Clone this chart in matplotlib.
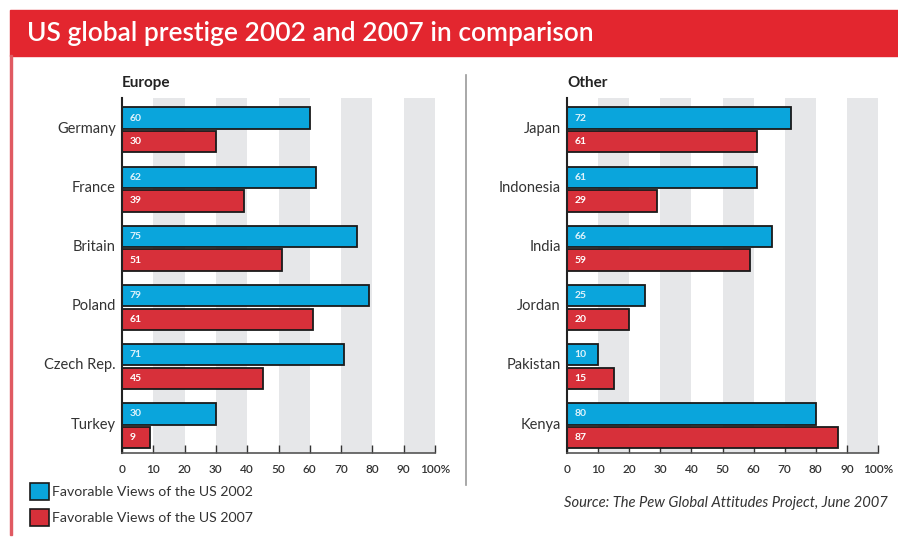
import matplotlib.pyplot as plt
import numpy as np

# === Data ===
europe = ["Germany", "France", "Britain", "Poland", "Czech Rep.", "Turkey"]
europe_2002 = [60, 62, 75, 79, 71, 30]
europe_2007 = [30, 39, 51, 61, 45, 9]

other = ["Japan", "Indonesia", "India", "Jordan", "Pakistan", "Kenya"]
other_2002 = [72, 61, 66, 25, 10, 80]
other_2007 = [61, 29, 59, 20, 15, 87]

x_ticks = [0, 10, 20, 30, 40, 50, 60, 70, 80, 90, 100]
x_tick_labels = ["0", "10", "20", "30", "40", "50", "60", "70", "80", "90", "100%"]

legend_labels = ["Favorable Views of the US 2002", "Favorable Views of the US 2007"]

BLUE = "#0AA5DC"
RED = "#D7303A"
STRIPE = "#E6E7E9"
TXT = "#333333"

plt.rcParams['font.family'] = ['Lato', 'DejaVu Sans']

fig = plt.figure(figsize=(8.98, 5.4), dpi=100)
fig.patch.set_facecolor('white')

# === Title bar and frame ===
fig.patches.append(plt.Rectangle((10 / 898, 1 - 56 / 540), 888 / 898, 46 / 540,
                                 transform=fig.transFigure, color="#E3262F", zorder=0))
fig.patches.append(plt.Rectangle((10 / 898, 5 / 540), 2 / 898, 480 / 540,
                                 transform=fig.transFigure, color="#E05A62", zorder=0))
fig.text(27 / 898, 1 - 33 / 540, "US global prestige 2002 and 2007 in comparison",
         color='white', fontsize=19, fontweight='semibold', ha='left', va='center')

# divider
fig.lines.append(plt.Line2D([466 / 898, 466 / 898], [1 - 75 / 540, 1 - 485 / 540],
                            transform=fig.transFigure, color="#999999", lw=1.2))


def panel(rect, title, names, v02, v07):
    ax = fig.add_axes(rect)
    n = len(names)
    ax.set_xlim(0, 100)
    ax.set_ylim(n, 0)
    for s in range(10, 100, 20):
        ax.axvspan(s, s + 10, color=STRIPE, lw=0, zorder=0)
    pos = np.arange(n)
    ax.barh(pos + 0.34, v02, height=0.36, color=BLUE, edgecolor="#1a1a1a", lw=1.3, zorder=2)
    ax.barh(pos + 0.74, v07, height=0.36, color=RED, edgecolor="#1a1a1a", lw=1.3, zorder=2)
    for i in range(n):
        ax.text(2.5, i + 0.34, str(v02[i]), color="#dff3fb", fontsize=7.5,
                fontweight='bold', va='center', ha='left', zorder=3)
        ax.text(2.5, i + 0.74, str(v07[i]), color="white", fontsize=7.5,
                fontweight='bold', va='center', ha='left', zorder=3)
        ax.text(-2, i + 0.52, names[i], color=TXT, fontsize=10.5,
                ha='right', va='center', transform=ax.transData)
    ax.set_yticks([])
    ax.set_xticks(x_ticks)
    ax.set_xticklabels(x_tick_labels, fontsize=8.5, color=TXT, fontweight='semibold')
    ax.tick_params(axis='x', direction='in', length=6, width=1, color="#333333", pad=8)
    for sp in ['top', 'right']:
        ax.spines[sp].set_visible(False)
    ax.spines['left'].set_linewidth(1.5)
    ax.spines['bottom'].set_linewidth(1.2)
    ax.spines['left'].set_color("#222222")
    ax.spines['bottom'].set_color("#555555")
    ax.text(0, -0.25, title, fontsize=11, fontweight='bold', color="#222222",
            ha='left', va='center')
    return ax


panel([122 / 898, 1 - 453 / 540, 313 / 898, 355 / 540], "Europe", europe, europe_2002, europe_2007)
panel([567 / 898, 1 - 453 / 540, 311 / 898, 355 / 540], "Other", other, other_2002, other_2007)

# === Legend ===
for k, (lab, col) in enumerate(zip(legend_labels, [BLUE, RED])):
    yc = 1 - (492 + 26 * k) / 540
    fig.patches.append(plt.Rectangle((30 / 898, yc - 8 / 540), 19 / 898, 17 / 540,
                                     transform=fig.transFigure, facecolor=col,
                                     edgecolor="#1a1a1a", lw=1.2))
    fig.text(52 / 898, yc, lab, fontsize=10.2, color=TXT, ha='left', va='center')

fig.text(888 / 898, 1 - 503 / 540, "Source: The Pew Global Attitudes Project, June 2007",
         fontsize=10.6, style='italic', color=TXT, ha='right', va='center')

plt.savefig("out.png", dpi=100)
